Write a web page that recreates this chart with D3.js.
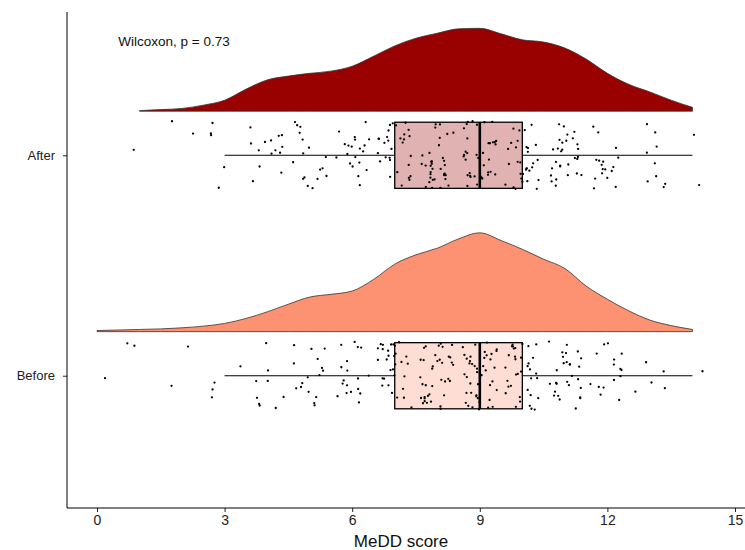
<!DOCTYPE html>
<html>
<head>
<meta charset="utf-8">
<script src="https://cdn.jsdelivr.net/npm/d3@7"></script>
<style>
  body { margin: 0; background: #fff; }
  svg { display: block; font-family: "Liberation Sans", Arial, sans-serif; }
</style>
</head>
<body>
<div class="chart"></div>
<script>
// groups on the discrete y axis (bottom to top)
const groups = ["Before", "After"];
const groupFill = { After: "#990000", Before: "#FC9272" };

// score levels and how many respondents gave each score
const scoreLevels = [0, 1, 2, 3, 4, 5, 6, 7, 8, 9, 10, 11, 12, 13, 14];
const afterCounts = [0, 1, 2, 5, 14, 17, 20, 30, 35, 38, 32, 29, 17, 9, 2];
const beforeCounts = [1, 2, 2, 4, 9, 16, 18, 31, 38, 45, 36, 28, 15, 5, 1];

// half-violin density
const afterDensityX = [1, 1.5, 2, 2.5, 3, 3.5, 4, 4.5, 5, 5.5, 6, 6.5, 7, 7.5, 8, 8.5, 9, 9.5, 10, 10.5, 11, 11.5, 12, 12.5, 13, 13.5, 14];
const afterDensity = [0.001, 0.003, 0.005, 0.011, 0.020, 0.040, 0.057, 0.064, 0.069, 0.073, 0.082, 0.100, 0.119, 0.133, 0.142, 0.150, 0.151, 0.141, 0.130, 0.126, 0.115, 0.095, 0.069, 0.049, 0.035, 0.020, 0.007];
const beforeDensityX = [0, 0.5, 1, 1.5, 2, 2.5, 3, 3.5, 4, 4.5, 5, 5.5, 6, 6.5, 7, 7.5, 8, 8.5, 9, 9.5, 10, 10.5, 11, 11.5, 12, 12.5, 13, 13.5, 14];
const beforeDensity = [0.002, 0.003, 0.004, 0.005, 0.007, 0.010, 0.015, 0.024, 0.036, 0.050, 0.063, 0.068, 0.074, 0.095, 0.123, 0.140, 0.152, 0.169, 0.180, 0.166, 0.150, 0.132, 0.115, 0.083, 0.059, 0.038, 0.021, 0.011, 0.004];

const xTicks = [0, 3, 6, 9, 12, 15];
const pLabel = "Wilcoxon, p = 0.73";

const width = 745, height = 550;
const margin = { top: 12, right: 0, bottom: 42, left: 67 };

const svg = d3.select(".chart").append("svg")
  .attr("width", width)
  .attr("height", height);

const x = d3.scaleLinear().domain([0, 15]).range([97, 735]);
const y = d3.scaleLinear().domain([0.4, 2.65]).range([height - margin.bottom, margin.top]);
const yPos = { Before: 1, After: 2 };

// expand counts to individual scores
const expand = counts => scoreLevels.flatMap((s, i) => d3.range(counts[i]).map(() => s));
const scores = { After: expand(afterCounts), Before: expand(beforeCounts) };
const dens = {
  After: afterDensityX.map((v, i) => [v, afterDensity[i]]),
  Before: beforeDensityX.map((v, i) => [v, beforeDensity[i]])
};

const densityOffset = 0.2, densityHeight = 2.49, boxHalf = 0.15;

// densities
const area = d3.area()
  .curve(d3.curveMonotoneX)
  .x(d => x(d[0]));

groups.forEach(g => {
  area.y0(y(yPos[g] + densityOffset))
    .y1(d => y(yPos[g] + densityOffset + d[1] * densityHeight));
  svg.append("path")
    .datum(dens[g])
    .attr("d", area)
    .attr("fill", groupFill[g])
    .attr("stroke", "#333")
    .attr("stroke-width", 0.8);
});

// boxplots
groups.forEach(g => {
  const v = scores[g].slice().sort(d3.ascending);
  const q1 = d3.quantile(v, 0.25), med = d3.quantile(v, 0.5), q3 = d3.quantile(v, 0.75);
  const iqr = q3 - q1;
  const lo = d3.min(v.filter(d => d >= q1 - 1.5 * iqr));
  const hi = d3.max(v.filter(d => d <= q3 + 1.5 * iqr));
  const c = yPos[g];
  const gb = svg.append("g").attr("stroke", "#000");
  gb.append("line").attr("x1", x(lo)).attr("x2", x(q1)).attr("y1", y(c)).attr("y2", y(c)).attr("stroke-width", 1.1);
  gb.append("line").attr("x1", x(q3)).attr("x2", x(hi)).attr("y1", y(c)).attr("y2", y(c)).attr("stroke-width", 1.1);
  gb.append("rect")
    .attr("x", x(q1)).attr("width", x(q3) - x(q1))
    .attr("y", y(c + boxHalf)).attr("height", y(c - boxHalf) - y(c + boxHalf))
    .attr("fill", groupFill[g]).attr("fill-opacity", 0.3)
    .attr("stroke-width", 1.3);
  gb.append("line").attr("x1", x(med)).attr("x2", x(med))
    .attr("y1", y(c + boxHalf)).attr("y2", y(c - boxHalf)).attr("stroke-width", 2.6);
});

// jittered points
const rng = d3.randomLcg(0.42);
const jx = d3.randomUniform.source(rng)(-0.4, 0.4);
const jy = d3.randomUniform.source(rng)(-0.155, 0.155);
groups.forEach(g => {
  svg.append("g").selectAll("circle")
    .data(scores[g])
    .join("circle")
    .attr("cx", d => x(d + jx()))
    .attr("cy", () => y(yPos[g] + jy()))
    .attr("r", 1.15)
    .attr("fill", "#000");
});

// axes
const xAxis = svg.append("g")
  .attr("transform", `translate(0,${height - margin.bottom})`)
  .call(d3.axisBottom(x).tickValues(xTicks).tickSize(4).tickPadding(3));
xAxis.select(".domain").remove();
xAxis.append("line").attr("x1", margin.left).attr("x2", width).attr("stroke", "#000");
xAxis.selectAll(".tick text").attr("font-size", 14).attr("fill", "#222").attr("font-family", null);
xAxis.selectAll(".tick line").attr("stroke", "#222");

const yAxis = svg.append("g")
  .attr("transform", `translate(${margin.left},0)`)
  .call(d3.axisLeft(y).tickValues(groups.map(g => yPos[g])).tickFormat(d => groups[d - 1]).tickSize(4).tickPadding(8));
yAxis.select(".domain").remove();
yAxis.append("line").attr("y1", margin.top).attr("y2", height - margin.bottom).attr("stroke", "#000");
yAxis.selectAll(".tick text").attr("font-size", 13).attr("fill", "#222").attr("font-family", null);
yAxis.selectAll(".tick line").attr("stroke", "#222");

svg.append("text")
  .attr("x", (97 + 735) / 2 - 15)
  .attr("y", 547)
  .attr("text-anchor", "middle")
  .attr("font-size", 17)
  .attr("fill", "#111")
  .text("MeDD score");

svg.append("text")
  .attr("x", x(0.5))
  .attr("y", y(2.51))
  .attr("dominant-baseline", "middle")
  .attr("font-size", 13.5)
  .attr("fill", "#111")
  .text(pLabel);
</script>
</body>
</html>
